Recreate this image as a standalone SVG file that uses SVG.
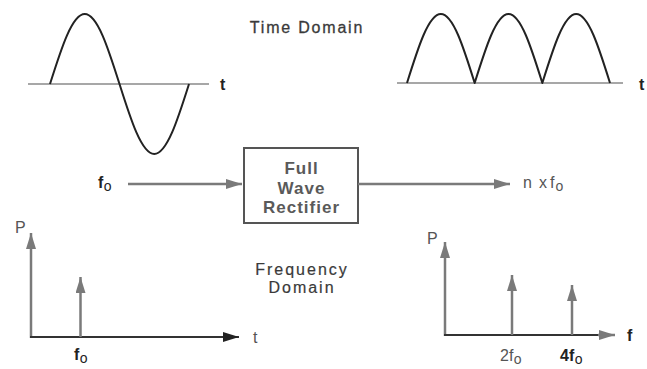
<svg xmlns="http://www.w3.org/2000/svg" width="647" height="369" viewBox="0 0 647 369">
<defs>
<style>
.wave{fill:none;stroke:#222;stroke-width:2;stroke-linejoin:round}
.axis{fill:none;stroke:#8a8a8a;stroke-width:1.5}
.gl{fill:none;stroke:#7a7a7a;stroke-width:2.5}
.dl{fill:none;stroke:#333;stroke-width:2}
.lbl{font-family:"Liberation Sans",Arial,sans-serif;font-size:16px}
.b{font-weight:bold;fill:#222}
.r{fill:#555}
.sub{font-size:14px;font-weight:normal}
.ttl{font-family:"Liberation Sans",Arial,sans-serif;font-size:16px;fill:#3a3a3a;letter-spacing:1.8px;text-anchor:middle;stroke:#3a3a3a;stroke-width:0.3px}
.box{fill:#fff;stroke:#555;stroke-width:2}
.bt{font-family:"Liberation Sans",Arial,sans-serif;font-size:17px;font-weight:bold;fill:#5a5a5a;letter-spacing:1px;text-anchor:middle}
</style>
<marker id="ag" markerUnits="userSpaceOnUse" markerWidth="16" markerHeight="10" refX="16" refY="5" orient="auto">
<path d="M0,0 L16,5 L0,10 Z" fill="#7a7a7a"/>
</marker>
<marker id="ad" markerUnits="userSpaceOnUse" markerWidth="16" markerHeight="10" refX="16" refY="5" orient="auto">
<path d="M0,0 L16,5 L0,10 Z" fill="#222"/>
</marker>
</defs>

<g id="time-input">
<line class="axis" x1="28" y1="84" x2="209" y2="84"/>
<path class="wave" d="M50,84 C61.33,48.14 72.17,14 84.75,14 C97.33,14 108.17,48.14 119.5,84 C130.83,119.86 141.67,154 154.25,154 C166.83,154 177.67,119.86 189,84"/>
<text class="lbl b" x="220" y="90">t</text>
</g>

<g id="time-output">
<line class="axis" x1="397" y1="83" x2="623" y2="83"/>
<path class="wave" d="M407,83 C418.04,47.65 428.59,14 440.84,14 C453.09,14 463.63,47.65 474.67,83 C485.71,47.65 496.26,14 508.51,14 C520.76,14 531.3,47.65 542.34,83 C553.38,47.65 563.93,14 576.18,14 C588.43,14 598.96,47.65 610,83"/>
<text class="lbl b" x="639" y="90">t</text>
</g>

<g id="title-time">
<text class="ttl" x="307" y="33">Time Domain</text>
</g>

<g id="rectifier">
<rect class="box" x="244" y="148" width="114" height="75"/>
<text class="bt" x="301.5" y="174">Full</text>
<text class="bt" x="301.5" y="194">Wave</text>
<text class="bt" x="301.5" y="213">Rectifier</text>
</g>

<g id="input-label">
<text class="lbl b" x="98" y="188">f<tspan class="sub" dx="0.5" dy="3">o</tspan></text>
</g>

<g id="output-label">
<text class="lbl r" x="523" y="188">n<tspan x="539">x</tspan><tspan x="550">f</tspan><tspan class="sub" dx="1" dy="3">o</tspan></text>
</g>

<g id="connectors">
<line class="gl" x1="128" y1="184" x2="242" y2="184" stroke-width="2" marker-end="url(#ag)"/>
<line class="gl" x1="358" y1="184" x2="510" y2="184" stroke-width="2" marker-end="url(#ag)"/>
</g>

<g id="spectrum-input">
<line class="gl" x1="31" y1="338" x2="31" y2="233" marker-end="url(#ag)"/>
<line class="dl" x1="30" y1="337" x2="239" y2="337" marker-end="url(#ad)"/>
<line class="gl" x1="80.5" y1="337" x2="80.5" y2="277" marker-end="url(#ag)"/>
<text class="lbl r" x="15" y="233">P</text>
<text class="lbl r" x="253" y="343">t</text>
<text class="lbl b" x="74" y="360">f<tspan class="sub" dx="0.5" dy="3">o</tspan></text>
</g>

<g id="title-frequency">
<text class="ttl" x="302" y="275" style="letter-spacing:2px;stroke-width:0.2px">Frequency</text>
<text class="ttl" x="302" y="293" style="letter-spacing:2px;stroke-width:0.2px">Domain</text>
</g>

<g id="spectrum-output">
<line class="gl" x1="445" y1="336" x2="445" y2="242" marker-end="url(#ag)"/>
<line class="dl" x1="444" y1="335" x2="600" y2="335"/>
<line class="gl" x1="598" y1="335" x2="615" y2="335" marker-end="url(#ag)"/>
<line class="gl" x1="512" y1="335" x2="512" y2="275" marker-end="url(#ag)"/>
<line class="gl" x1="572" y1="335" x2="572" y2="285" marker-end="url(#ag)"/>
<text class="lbl r" x="427" y="244">P</text>
<text class="lbl b" x="627" y="341">f</text>
<text class="lbl r" x="500" y="361">2f<tspan class="sub" dx="0.5" dy="3">o</tspan></text>
<text class="lbl b" x="560" y="361">4f<tspan class="sub" dx="0.5" dy="3">o</tspan></text>
</g>
</svg>
